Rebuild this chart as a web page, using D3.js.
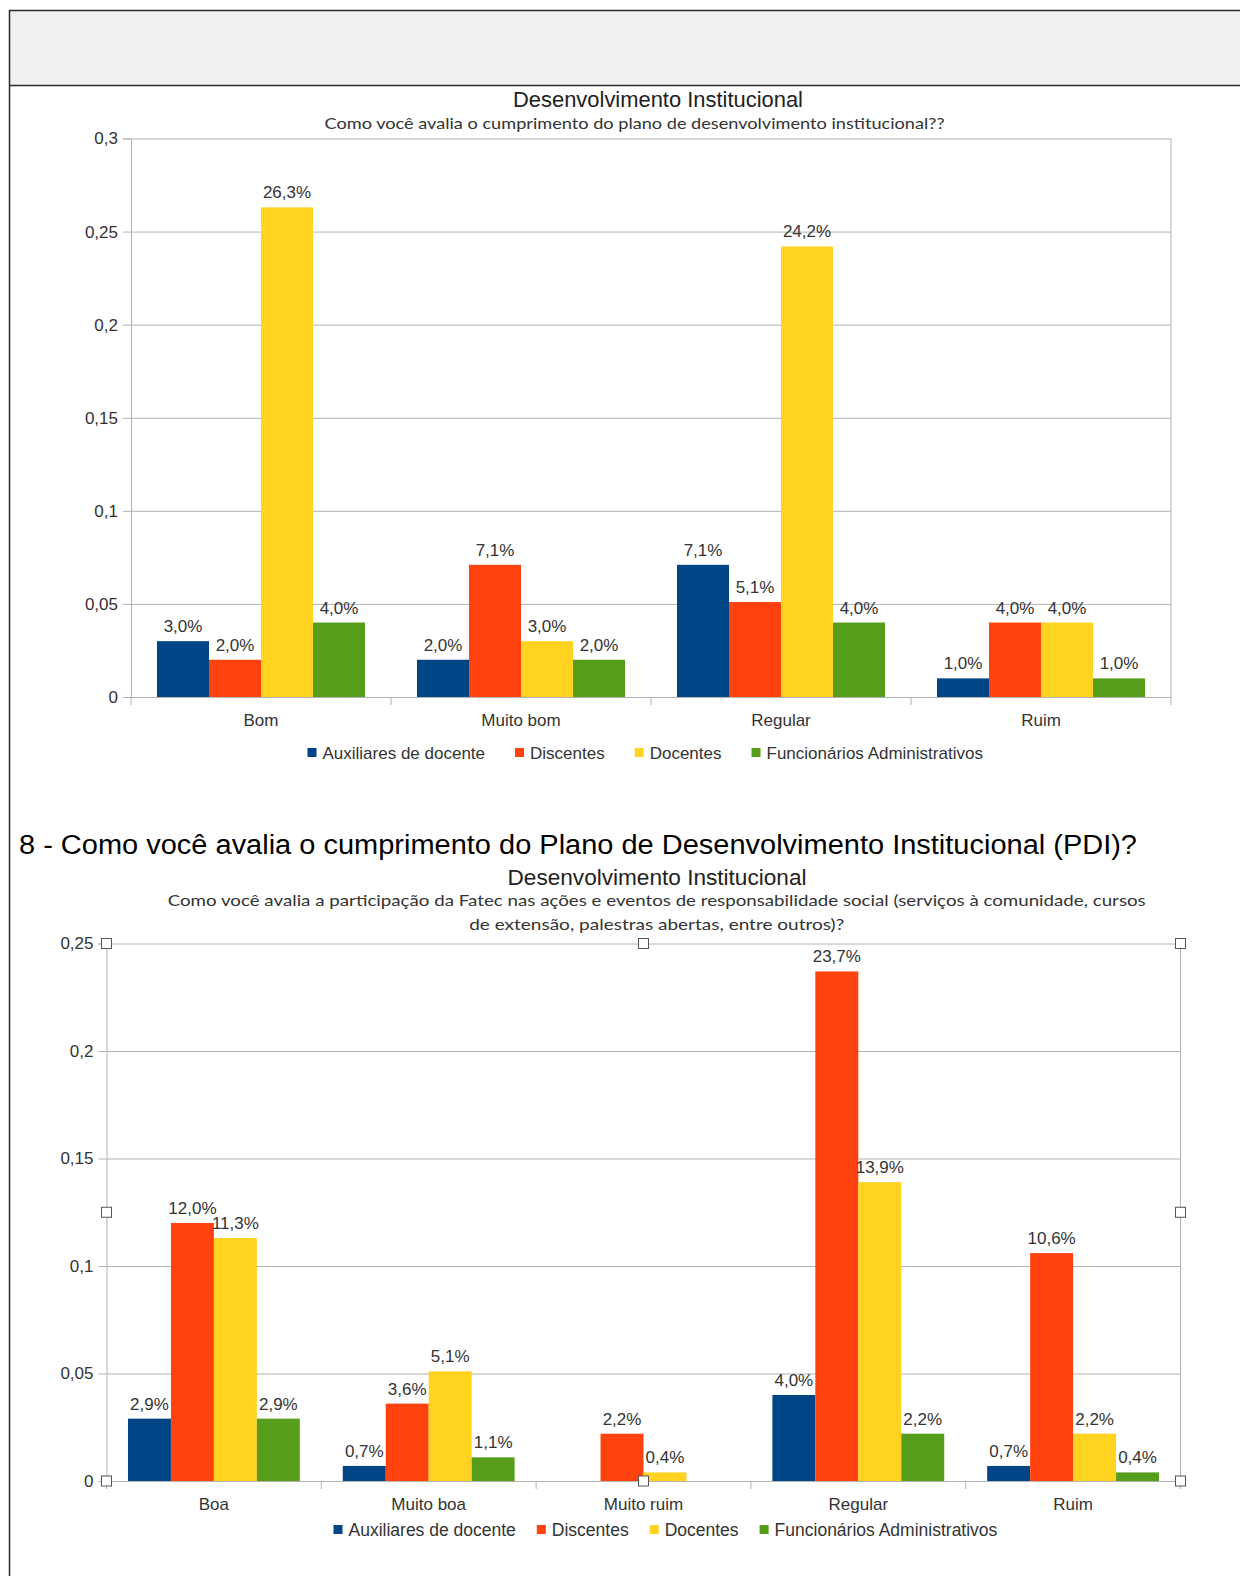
<!DOCTYPE html>
<html>
<head>
<meta charset="utf-8">
<script src="https://cdn.jsdelivr.net/npm/d3@7"></script>
<style>
body { margin: 0; background: #fff; }
svg { display: block; font-family: "Liberation Sans", Arial, sans-serif; }
</style>
</head>
<body>
<svg id="page" width="1240" height="1576"></svg>
<script>
// series shared by both charts
var series = ['Auxiliares de docente', 'Discentes', 'Docentes', 'Funcionários Administrativos'];
var colors = ['#004586', '#ff420e', '#ffd320', '#579d1c'];

// chart 1 - plano de desenvolvimento
var cats1 = ['Bom', 'Muito bom', 'Regular', 'Ruim'];
var aux1 = [0.030, 0.020, 0.071, 0.010];
var disc1 = [0.020, 0.071, 0.051, 0.040];
var doc1 = [0.263, 0.030, 0.242, 0.040];
var func1 = [0.040, 0.020, 0.040, 0.010];
var yTicks1 = [0, 0.05, 0.1, 0.15, 0.2, 0.25, 0.3];

// chart 2 - responsabilidade social
var cats2 = ['Boa', 'Muito boa', 'Muito ruim', 'Regular', 'Ruim'];
var aux2 = [0.029, 0.007, null, 0.040, 0.007];
var disc2 = [0.120, 0.036, 0.022, 0.237, 0.106];
var doc2 = [0.113, 0.051, 0.004, 0.139, 0.022];
var func2 = [0.029, 0.011, null, 0.022, 0.004];
var yTicks2 = [0, 0.05, 0.1, 0.15, 0.2, 0.25];

var title = 'Desenvolvimento Institucional';
var sub1 = ['Como você avalia o cumprimento do plano de desenvolvimento institucional??'];
var sub2 = ['Como você avalia a participação da Fatec nas ações e eventos de responsabilidade social (serviços à comunidade, cursos',
            'de extensão, palestras abertas, entre outros)?'];
var heading = '8 - Como você avalia o cumprimento do Plano de Desenvolvimento Institucional (PDI)?';

d3.formatDefaultLocale({decimal: ',', thousands: '.', grouping: [3], currency: ['R$', '']});
var pct = d3.format('.1%');
var tickFmt = d3.format('~g');

var svg = d3.select('#page');

// document frame
svg.append('rect').attr('x', 9).attr('y', 10).attr('width', 1231).attr('height', 75.5).attr('fill', '#eef0f1');
svg.append('path')
    .attr('d', 'M1240,10.5H9.5V1576M9.5,85.5H1240')
    .attr('fill', 'none').attr('stroke', '#2a2a2a').attr('stroke-width', 1.5);

svg.append('text')
    .attr('x', 19).attr('y', 854)
    .attr('font-size', 27).attr('fill', '#000')
    .attr('textLength', 1118).attr('lengthAdjust', 'spacingAndGlyphs')
    .text(heading);

drawChart({
    cats: cats1, values: [aux1, disc1, doc1, func1], ticks: yTicks1,
    left: 131, right: 1171, top: 138.5, bottom: 697,
    titleX: 658, titleY: 106.5, titleLen: 290,
    subs: sub1, subX: 634.5, subY: [128.5], subLens: [620],
    legendX: 307.5, legendY: 753, legendFont: 17, legendGap: 30,
    handles: false
});

drawChart({
    cats: cats2, values: [aux2, disc2, doc2, func2], ticks: yTicks2,
    left: 106.5, right: 1180.5, top: 943.5, bottom: 1481,
    titleX: 657, titleY: 885, titleLen: 299,
    subs: sub2, subX: 656.7, subY: [906, 930], subLens: [978, 375],
    legendX: 333.5, legendY: 1530, legendFont: 17.5, legendGap: 21,
    handles: true
});

function drawChart(c) {
    var g = svg.append('g');
    var w = c.right - c.left;

    g.append('text')
        .attr('x', c.titleX).attr('y', c.titleY)
        .attr('text-anchor', 'middle').attr('font-size', 22).attr('fill', '#222')
        .attr('textLength', c.titleLen).attr('lengthAdjust', 'spacingAndGlyphs')
        .text(title);

    c.subs.forEach(function(s, i) {
        g.append('text')
            .attr('x', c.subX).attr('y', c.subY[i])
            .attr('text-anchor', 'middle')
            .style('font-family', 'Lato, "Open Sans", sans-serif')
            .attr('font-size', 16).attr('fill', '#333')
            .attr('textLength', c.subLens[i]).attr('lengthAdjust', 'spacingAndGlyphs')
            .text(s);
    });

    var x0 = d3.scaleBand().domain(c.cats).range([c.left, c.right]);
    var x1 = d3.scaleBand().domain(series)
        .range([0.1 * x0.bandwidth(), 0.9 * x0.bandwidth()]);
    var y = d3.scaleLinear()
        .domain([0, d3.max(c.ticks)])
        .range([c.bottom, c.top]);

    // gridlines
    g.append('g')
        .attr('transform', `translate(${c.left},0)`)
        .call(d3.axisLeft(y).tickValues(c.ticks).tickSize(-w).tickFormat(''))
        .call(a => a.select('.domain').remove())
        .selectAll('line').attr('stroke', '#b3b3b3');

    // y axis
    var yAxis = g.append('g')
        .attr('transform', `translate(${c.left},0)`)
        .call(d3.axisLeft(y).tickValues(c.ticks).tickSize(8).tickPadding(5).tickFormat(tickFmt));
    yAxis.select('.domain').attr('stroke', '#b3b3b3');
    yAxis.selectAll('line').attr('stroke', '#b3b3b3');
    yAxis.selectAll('text')
        .attr('fill', '#333').attr('font-size', 17)
        .style('font-family', '"Liberation Sans", Arial, sans-serif');

    // right border
    g.append('line')
        .attr('x1', c.right).attr('x2', c.right)
        .attr('y1', c.top).attr('y2', c.bottom)
        .attr('stroke', '#b3b3b3');

    // x axis
    var xAxis = g.append('g')
        .attr('transform', `translate(0,${c.bottom})`)
        .call(d3.axisBottom(x0).tickSize(0).tickPadding(17));
    xAxis.select('.domain').attr('stroke', '#b3b3b3');
    xAxis.selectAll('text')
        .attr('fill', '#333').attr('font-size', 17)
        .style('font-family', '"Liberation Sans", Arial, sans-serif');

    // category separators
    var bounds = c.cats.map(d => x0(d)).concat([c.right]);
    g.append('g').selectAll('line')
        .data(bounds)
        .join('line')
        .attr('x1', d => d).attr('x2', d => d)
        .attr('y1', c.bottom).attr('y2', c.bottom + 8)
        .attr('stroke', '#b3b3b3');

    // bars
    var rows = [];
    c.cats.forEach(function(cat, i) {
        series.forEach(function(s, j) {
            if (c.values[j][i] != null) rows.push({cat: cat, s: s, j: j, v: c.values[j][i]});
        });
    });

    g.append('g').selectAll('rect')
        .data(rows)
        .join('rect')
        .attr('x', d => x0(d.cat) + x1(d.s))
        .attr('y', d => y(d.v))
        .attr('width', x1.bandwidth())
        .attr('height', d => c.bottom - y(d.v))
        .attr('fill', d => colors[d.j]);

    g.append('g').selectAll('text')
        .data(rows)
        .join('text')
        .attr('x', d => x0(d.cat) + x1(d.s) + x1.bandwidth() / 2)
        .attr('y', d => y(d.v) - 9)
        .attr('text-anchor', 'middle')
        .attr('font-size', 17).attr('fill', '#333')
        .text(d => pct(d.v));

    // legend
    var lx = c.legendX;
    series.forEach(function(s, j) {
        g.append('rect')
            .attr('x', lx).attr('y', c.legendY - 5)
            .attr('width', 9).attr('height', 9)
            .attr('fill', colors[j]);
        var t = g.append('text')
            .attr('x', lx + 15).attr('y', c.legendY + 6)
            .attr('font-size', c.legendFont).attr('fill', '#333')
            .text(s);
        lx += 15 + t.node().getComputedTextLength() + c.legendGap;
    });

    // selection handles
    if (c.handles) {
        var mx = (c.left + c.right) / 2, my = (c.top + c.bottom) / 2;
        var pts = [[c.left, c.top], [mx, c.top], [c.right, c.top],
                   [c.left, my], [c.right, my],
                   [c.left, c.bottom], [mx, c.bottom], [c.right, c.bottom]];
        g.append('g').selectAll('rect')
            .data(pts)
            .join('rect')
            .attr('x', d => d[0] - 5).attr('y', d => d[1] - 5)
            .attr('width', 10).attr('height', 10)
            .attr('fill', '#fff').attr('stroke', '#555');
    }
}
</script>
</body>
</html>
